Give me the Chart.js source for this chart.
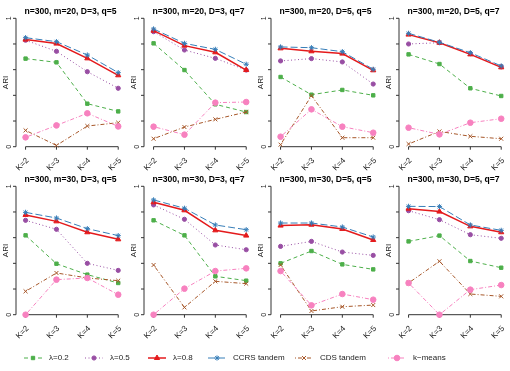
<!DOCTYPE html>
<html>
<head>
<meta charset="utf-8">
<script src="https://cdn.jsdelivr.net/npm/chart.js@4"></script>
<style>
  body { margin: 0; background: #fff; width: 510px; height: 371px; overflow: hidden; position: relative; }
  canvas { position: absolute; }
</style>
</head>
<body>
<div id="panels"></div>
<canvas id="legend" width="510" height="22" style="left:0;top:347px"></canvas>
<script>
const kValues = [2, 3, 4, 5];
const kLabels = ["K=2", "K=3", "K=4", "K=5"];
const yTicks = [0, 0.2, 0.4, 0.6, 0.8, 1];
const yTickLabels = ["0", "", "", "", "", "1"];

const panelTitles = [
  "n=300, m=20, D=3, q=5", "n=300, m=20, D=3, q=7", "n=300, m=20, D=5, q=5", "n=300, m=20, D=5, q=7",
  "n=300, m=30, D=3, q=5", "n=300, m=30, D=3, q=7", "n=300, m=30, D=5, q=5", "n=300, m=30, D=5, q=7"
];

const seriesNames = ["λ=0.2", "λ=0.5", "λ=0.8", "CCRS tandem", "CDS tandem", "k\u2212means"];

// ARI per panel (rows = panels, cols = K=2..5)
const lambda02 = [
  [0.686, 0.657, 0.335, 0.275],
  [0.805, 0.597, 0.330, 0.270],
  [0.543, 0.405, 0.442, 0.400],
  [0.719, 0.644, 0.455, 0.395],
  [0.618, 0.397, 0.312, 0.247],
  [0.735, 0.618, 0.299, 0.265],
  [0.400, 0.496, 0.392, 0.353],
  [0.571, 0.616, 0.418, 0.366]
];
const lambda05 = [
  [0.829, 0.743, 0.584, 0.455],
  [0.896, 0.753, 0.688, 0.597],
  [0.668, 0.686, 0.660, 0.488],
  [0.800, 0.810, 0.725, 0.622],
  [0.735, 0.665, 0.400, 0.345],
  [0.855, 0.743, 0.543, 0.506],
  [0.532, 0.571, 0.488, 0.462],
  [0.810, 0.740, 0.623, 0.595]
];
const lambda08 = [
  [0.834, 0.803, 0.688, 0.556],
  [0.904, 0.787, 0.735, 0.597],
  [0.766, 0.743, 0.725, 0.595],
  [0.873, 0.810, 0.719, 0.618],
  [0.777, 0.727, 0.642, 0.587],
  [0.875, 0.813, 0.657, 0.616],
  [0.694, 0.701, 0.668, 0.582],
  [0.826, 0.803, 0.688, 0.642]
];
const ccrs = [
  [0.849, 0.818, 0.714, 0.577],
  [0.917, 0.805, 0.758, 0.642],
  [0.777, 0.771, 0.740, 0.603],
  [0.883, 0.813, 0.732, 0.629],
  [0.797, 0.753, 0.670, 0.616],
  [0.894, 0.829, 0.699, 0.662],
  [0.714, 0.714, 0.683, 0.605],
  [0.844, 0.842, 0.699, 0.657]
];
const cds = [
  [0.127, 0.010, 0.161, 0.187],
  [0.062, 0.153, 0.213, 0.270],
  [0.016, 0.397, 0.070, 0.070],
  [0.021, 0.119, 0.081, 0.062],
  [0.182, 0.325, 0.286, 0.265],
  [0.387, 0.057, 0.260, 0.242],
  [0.387, 0.029, 0.062, 0.075],
  [0.247, 0.416, 0.161, 0.143]
];
const kmeans = [
  [0.073, 0.166, 0.260, 0.158],
  [0.156, 0.094, 0.343, 0.348],
  [0.078, 0.291, 0.156, 0.109],
  [0.148, 0.096, 0.187, 0.218],
  [0.000, 0.273, 0.286, 0.156],
  [0.000, 0.203, 0.340, 0.361],
  [0.340, 0.073, 0.161, 0.117],
  [0.247, 0.000, 0.195, 0.231]
];

const seriesValues = [lambda02, lambda05, lambda08, ccrs, cds, kmeans];

const styles = [
  { color: "#4DAF4A", dash: [4, 3], width: 1, point: "rect", radius: 2.4 },
  { color: "#984EA3", dash: [1, 2.5], width: 1, point: "circle", radius: 2.1 },
  { color: "#E41A1C", dash: [], width: 1.5, point: "triangle", radius: 3 },
  { color: "#377EB8", dash: [7, 3], width: 1, point: "star", radius: 2.6 },
  { color: "#A65628", dash: [1, 2, 4, 2], width: 1, point: "crossRot", radius: 2.8 },
  { color: "#F781BF", dash: [1, 2, 4, 2], width: 1, point: "circle", radius: 2.8 }
];

const fontFamily = "'Liberation Sans', Arial, sans-serif";

const panelDecor = {
  id: "panelDecor",
  beforeDatasetsDraw(chart) {
    const ctx = chart.ctx;
    const xs = chart.scales.x;
    const ys = chart.scales.y;
    const area = chart.chartArea;
    const y0 = ys.getPixelForValue(0);
    const y1 = ys.getPixelForValue(1);
    ctx.save();
    ctx.strokeStyle = "#333";
    ctx.lineWidth = 1;
    ctx.setLineDash([]);

    // y axis
    ctx.beginPath();
    ctx.moveTo(area.left, y0);
    ctx.lineTo(area.left, y1);
    yTicks.forEach(v => {
      const y = ys.getPixelForValue(v);
      ctx.moveTo(area.left - 3, y);
      ctx.lineTo(area.left, y);
    });
    // x axis
    const xa = xs.getPixelForValue(kValues[0]);
    const xb = xs.getPixelForValue(kValues[kValues.length - 1]);
    ctx.moveTo(xa, y0);
    ctx.lineTo(xb, y0);
    kValues.forEach(k => {
      const x = xs.getPixelForValue(k);
      ctx.moveTo(x, y0);
      ctx.lineTo(x, y0 + 3);
    });
    ctx.stroke();

    ctx.fillStyle = "#222";
    // y tick labels
    ctx.font = "7px " + fontFamily;
    ctx.textAlign = "center";
    ctx.textBaseline = "middle";
    yTicks.forEach((v, i) => {
      if (!yTickLabels[i]) return;
      ctx.save();
      ctx.translate(area.left - 7, ys.getPixelForValue(v));
      ctx.rotate(-Math.PI / 2);
      ctx.fillText(yTickLabels[i], 0, 0);
      ctx.restore();
    });
    // ARI label
    ctx.font = "8px " + fontFamily;
    ctx.save();
    ctx.translate(area.left - 10, (y0 + y1) / 2);
    ctx.rotate(-Math.PI / 2);
    ctx.fillText("ARI", 0, 0);
    ctx.restore();
    // x tick labels
    ctx.textAlign = "right";
    kValues.forEach((k, i) => {
      ctx.save();
      ctx.translate(xs.getPixelForValue(k) + 2, y0 + 12.5);
      ctx.rotate(-Math.PI / 4);
      ctx.fillText(kLabels[i], 0, 0);
      ctx.restore();
    });
    // title
    ctx.font = "bold 8.6px " + fontFamily;
    ctx.textAlign = "center";
    ctx.fillStyle = "#000";
    ctx.fillText(chart.options.plugins.panelDecor.title, (area.left + area.right) / 2 + 1, 11.5);
    ctx.restore();
  }
};

function makePanel(p) {
  const col = p % 4;
  const row = Math.floor(p / 4);
  const canvas = document.createElement("canvas");
  canvas.width = 128;
  canvas.height = 180;
  canvas.style.left = Math.round(col * 127.5) + "px";
  canvas.style.top = (row * 168) + "px";
  document.getElementById("panels").appendChild(canvas);

  const datasets = seriesValues.map((vals, j) => ({
    label: seriesNames[j],
    data: kValues.map((k, i) => ({ x: k, y: vals[p][i] })),
    borderColor: styles[j].color,
    backgroundColor: styles[j].color,
    borderWidth: styles[j].width,
    borderDash: styles[j].dash,
    pointStyle: styles[j].point,
    pointRadius: styles[j].radius,
    pointBorderWidth: 1,
    pointBackgroundColor: styles[j].color,
    pointBorderColor: styles[j].color,
    tension: 0,
    clip: false,
    order: seriesNames.length - j
  }));

  new Chart(canvas.getContext("2d"), {
    type: "line",
    data: { datasets },
    options: {
      responsive: false,
      animation: false,
      devicePixelRatio: 1,
      layout: { padding: { left: 16, right: 0, top: 18.3, bottom: 33.3 } },
      scales: {
        x: { type: "linear", min: 1.69, max: 5.155, display: false },
        y: { min: 0, max: 1, display: false }
      },
      plugins: {
        legend: { display: false },
        tooltip: { enabled: false },
        panelDecor: { title: panelTitles[p] }
      }
    },
    plugins: [panelDecor]
  });
}

function drawLegend() {
  const ctx = document.getElementById("legend").getContext("2d");
  const starts = [24, 85, 148, 208, 295, 388];
  const y = 11;
  ctx.font = "8px " + fontFamily;
  ctx.textBaseline = "middle";
  ctx.textAlign = "left";
  seriesNames.forEach((name, j) => {
    const s = styles[j];
    const x = starts[j];
    ctx.strokeStyle = s.color;
    ctx.fillStyle = s.color;
    ctx.lineWidth = s.width;
    ctx.setLineDash(s.dash);
    ctx.beginPath();
    ctx.moveTo(x, y);
    ctx.lineTo(x + 18, y);
    ctx.stroke();
    ctx.setLineDash([]);
    ctx.lineWidth = 1;
    Chart.helpers.drawPoint(ctx, { pointStyle: s.point, radius: s.radius, rotation: 0, borderWidth: 1 }, x + 9, y);
    ctx.fillStyle = "#222";
    ctx.fillText(name, x + 25, y);
  });
}

document.addEventListener("DOMContentLoaded", () => {
  for (let p = 0; p < panelTitles.length; p++) makePanel(p);
  drawLegend();
});
</script>
</body>
</html>
